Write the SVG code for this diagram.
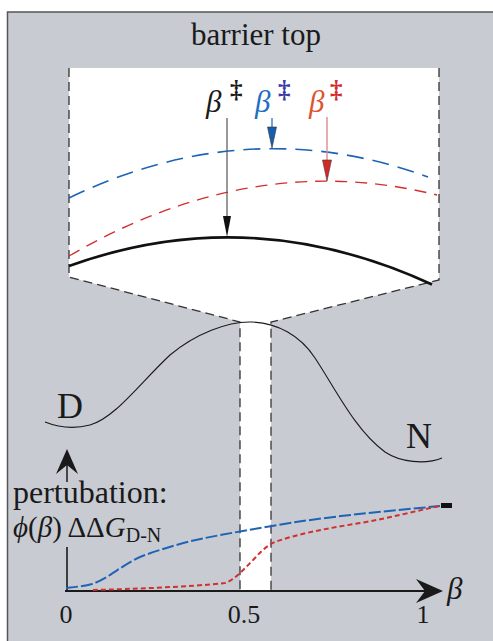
<svg xmlns="http://www.w3.org/2000/svg" width="493" height="641" viewBox="0 0 493 641">
<style>
.serif{font-family:"Liberation Serif","Times New Roman",serif;fill:#1a1a1a}
.it{font-style:italic}
.edge{fill:none;stroke:#333;stroke-width:1.3;stroke-dasharray:9 5}
.thin{fill:none;stroke:#1a1a1a;stroke-width:1.1}
.blueA{fill:none;stroke:#1f63b5;stroke-width:1.6;stroke-dasharray:17 9}
.redA{fill:none;stroke:#d2302e;stroke-width:1.4;stroke-dasharray:12 8}
.blueB{fill:none;stroke:#1f63b5;stroke-width:2;stroke-dasharray:12 3}
.redB{fill:none;stroke:#d2302e;stroke-width:2;stroke-dasharray:5 3}
.dag{font-size:25px;font-weight:bold}
</style>
<rect x="0" y="0" width="493" height="641" fill="#ffffff"/>
<g id="panel">
<rect x="7" y="12" width="486" height="629" fill="#c8cbd2"/>
<path d="M7.5,641 V12 H493" fill="none" stroke="#555" stroke-width="1.5"/>
</g>
<g id="title"><text class="serif" x="256" y="45" font-size="31" text-anchor="middle">barrier top</text></g>
<g id="zoom-window">
<path d="M69,68 H439 V280 L271,322 V590 H240 V322 L69,277 Z" fill="#ffffff"/>
<path class="edge" d="M69,68 V277 L240,322 V590"/>
<path class="edge" d="M439,68 V280 L271,322 V590"/>
</g>
<g id="zoom-curves">
<path class="blueA" d="M69,198 Q248.5,111.3 428,177"/>
<path class="redA" d="M69,256 Q253,149 437,195"/>
<path d="M69,266 Q250.5,200.6 432,284.5" fill="none" stroke="#111" stroke-width="2.6"/>
</g>
<g id="energy-curve">
<path class="thin" d="M45,422 C60,428 75,429 90,425 C115,418 140,383 170,355 C195,334 228,321 252,322 C277,323 300,335 315,358 C335,388 355,430 385,452 C400,462 425,465 442,458"/>
</g>
<g id="label-D"><text class="serif" x="57" y="418" font-size="36">D</text></g>
<g id="label-N"><text class="serif" x="406" y="448" font-size="36">N</text></g>
<g id="beta-black">
<text class="serif it" x="206" y="112" font-size="31">β</text>
<text class="serif dag" x="230" y="98">‡</text>
</g>
<g id="beta-blue">
<text class="serif it" x="255" y="112" font-size="31" style="fill:#1e6ec2">β</text>
<text class="serif dag" x="278" y="98" style="fill:#3838a6">‡</text>
</g>
<g id="beta-red">
<text class="serif it" x="309" y="112" font-size="31" style="fill:#dc5530">β</text>
<text class="serif dag" x="330" y="98" style="fill:#d42a2a">‡</text>
</g>
<g id="connectors">
<line x1="227" y1="118" x2="227" y2="218" stroke="#555" stroke-width="1.2"/>
<path d="M223,216 L231,216 L227,237 Z" fill="#111"/>
<line x1="272" y1="118" x2="272" y2="129" stroke="#1f63b5" stroke-width="1.2"/>
<path d="M267.5,127 L276.5,127 L272,148 Z" fill="#1a5cb0" stroke="#333" stroke-width="0.6"/>
<line x1="327" y1="117" x2="327" y2="162" stroke="#e08a8a" stroke-width="1.4"/>
<path d="M322.5,160 L331.5,160 L327,181 Z" fill="#cf2a2a" stroke="#533" stroke-width="0.6"/>
<line x1="67" y1="547" x2="67" y2="591" stroke="#1a1a1a" stroke-width="1.6"/>
<line x1="65" y1="591" x2="428" y2="591" stroke="#1a1a1a" stroke-width="2"/>
<path d="M443,591 L416,579 L425,591 L416,603 Z" fill="#1a1a1a"/>
<line x1="67" y1="463" x2="67" y2="482" stroke="#1a1a1a" stroke-width="1.5"/>
<path d="M67,449 L56,474 L67,465 L78,474 Z" fill="#1a1a1a"/>
</g>
<g id="perturbation-curves">
<path class="blueB" d="M66,588 C75,587 85,586 92,584 C110,578 125,562 145,555 C165,548 185,542 205,538 C230,533 260,528 290,523 C340,515 400,510 440,506"/>
<path class="redB" d="M93,590 C130,589 190,587 225,583 C235,580 245,568 255,558 C262,550 268,545 275,542 C300,533 330,528 360,523 C390,518 415,511 440,506"/>
<rect x="441" y="503" width="11" height="5" fill="#111"/>
</g>
<g id="axis-label">
<text class="serif" x="13" y="503" font-size="32">pertubation:</text>
<text class="serif" x="13" y="537" font-size="29"><tspan class="it">ϕ</tspan>(<tspan class="it">β</tspan>) ΔΔ<tspan class="it">G</tspan><tspan font-size="20" dy="5">D-N</tspan></text>
</g>
<g id="ticks">
<text class="serif" x="66" y="623" font-size="26" text-anchor="middle">0</text>
<text class="serif" x="244" y="623" font-size="26" text-anchor="middle">0.5</text>
<text class="serif" x="423" y="623" font-size="26" text-anchor="middle">1</text>
<text class="serif it" x="447" y="599" font-size="31">β</text>
</g>
</svg>
